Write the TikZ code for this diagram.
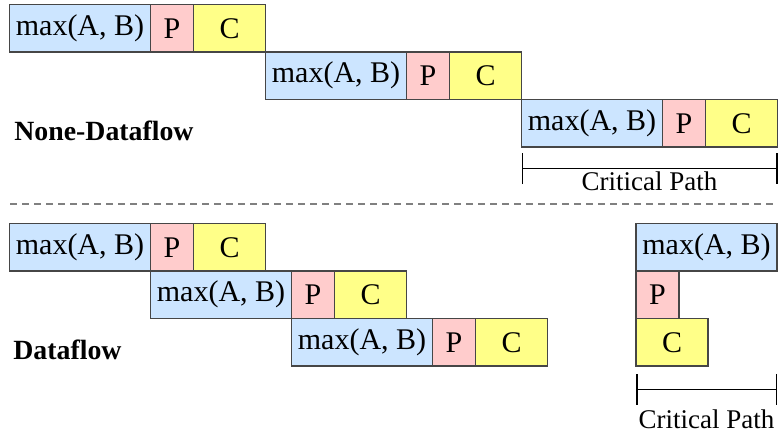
\documentclass[tikz,border=0pt]{standalone}
\usepackage{fontspec}
\setmainfont{Liberation Serif}
\usetikzlibrary{positioning,arrows.meta}
\definecolor{maxblue}{RGB}{204,229,255}
\definecolor{ppink}{RGB}{255,204,204}
\definecolor{cyellow}{RGB}{255,255,136}
\definecolor{edgegray}{RGB}{70,70,70}
\tikzset{
  stage/.style={draw=edgegray, line width=0.75pt, minimum height=23.75pt,
    inner sep=0pt, outer sep=0pt, font=\fontsize{15}{18}\selectfont},
  maxbox/.style={stage, fill=maxblue, minimum width=70.5pt},
  pbox/.style={stage, fill=ppink, minimum width=21.5pt},
  cbox/.style={stage, fill=cyellow, minimum width=36pt},
  caption/.style={anchor=west, inner sep=0pt, font=\fontsize{13.9}{16}\selectfont\bfseries},
  critpath/.style={{Bar[width=15.5pt]}-{Bar[width=15.5pt]}, line width=0.75pt},
  pathlabel/.style={inner sep=0pt, font=\fontsize{13.5}{16}\selectfont},
}
\begin{document}
\begin{tikzpicture}[x=0.5pt, y=-0.5pt]
  \useasboundingbox (0,0) rectangle (779,436);
  % khong dataflow: moi vong cho vong truoc xong
  \foreach \i in {0, 1, 2} {
    \node[maxbox, anchor=north west] (m\i) at (9.5+256*\i, 4.5+47.5*\i) {max(A, B)};
    \node[pbox, right=0pt of m\i] (p\i) {P};
    \node[cbox, right=0pt of p\i] (c\i) {C};
  }
  \node[caption] (nodf) at (14, 131) {None-Dataflow};
  \path (m2.south west) ++(0, 21.5) coordinate (cpl);
  \path (c2.south east) ++(0, 21.5) coordinate (cpr);
  \draw[critpath] (cpl) -- node[pathlabel, midway, yshift=-6.4pt] (cpt) {Critical Path} (cpr);

  % duong phan cach
  \draw[gray, line width=0.75pt, dash pattern=on 3.5pt off 2.5pt] (10, 204) -- (777, 204);

  % dataflow: vong sau bat dau ngay sau max(A, B)
  \foreach \i in {0, 1, 2} {
    \node[maxbox, anchor=north west] (dm\i) at (9.5+141*\i, 223.5+47.5*\i) {max(A, B)};
    \node[pbox, right=0pt of dm\i] (dp\i) {P};
    \node[cbox, right=0pt of dp\i] (dc\i) {C};
  }
  \node[caption] (df) at (13, 350) {Dataflow};

  % duong gang cua dataflow
  \node[maxbox, anchor=north west] (sm) at (636, 223.5) {max(A, B)};
  \node[pbox, anchor=north west] (sp) at (sm.south west) {P};
  \node[cbox, anchor=north west] (sc) at (sp.south west) {C};
  \path (sm.west |- sc.south) ++(0, 23.3) coordinate (dpl);
  \path (sm.east |- sc.south) ++(0, 23.3) coordinate (dpr);
  \draw[critpath] (dpl) -- node[pathlabel, midway, yshift=-15.2pt] (dpt) {Critical Path} (dpr);
\end{tikzpicture}
\end{document}
